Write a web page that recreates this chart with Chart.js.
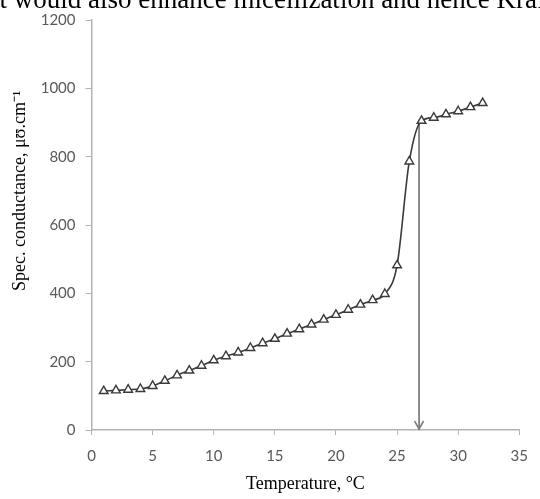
<!DOCTYPE html>
<html><head><meta charset="utf-8">
<script src="https://cdn.jsdelivr.net/npm/chart.js@4"></script>
<style>
html,body{margin:0;padding:0;background:#fff;overflow:hidden}
#wrap{position:relative;width:540px;height:499px}
#top{position:absolute;left:-8px;top:-14px;line-height:27px;font-family:"Liberation Serif",serif;font-size:27px;color:#000;white-space:nowrap}
canvas{position:absolute;left:0;top:0}
</style></head>
<body><div id="wrap">
<canvas id="c" width="540" height="499"></canvas>
<div id="top">it would also enhance micellization and hence Krafft</div>
</div>
<script>
const temperature = [1,2,3,4,5,6,7,8,9,10,11,12,13,14,15,16,17,18,19,20,21,22,23,24,25,26,27,28,29,30,31,32];
const conductance = [114,116,118,120,129,144,160,174,188,204,216,227,240,254,267,282,295,309,323,337,352,367,380,398,482,786,905,914,924,933,945,957];
const arrowX = [26.8, 26.8];
const arrowY = [905, 0];
const xTitle = 'Temperature, \u00B0C';
const yTitle = 'Spec. conductance, \u03BC\u028A.cm\u207B\u00B9';
const yTitleCentreValue = 700;

const extras = {
  id:'extras',
  afterDatasetsDraw(chart){
    const ctx = chart.ctx;
    const p = chart.getDatasetMeta(1).data[1];
    ctx.save();
    ctx.strokeStyle = '#7f7f7f';
    ctx.lineWidth = 1.6;
    ctx.beginPath();
    ctx.moveTo(p.x-4.5, p.y-9);
    ctx.lineTo(p.x, p.y-1);
    ctx.lineTo(p.x+4.5, p.y-9);
    ctx.stroke();
    const cy = chart.scales.y.getPixelForValue(yTitleCentreValue);
    ctx.translate(20, cy);
    ctx.rotate(-Math.PI/2);
    ctx.fillStyle = '#000';
    ctx.font = '18px "Liberation Serif", serif';
    ctx.textAlign = 'center';
    ctx.textBaseline = 'middle';
    ctx.fillText(yTitle, 0, 0);
    ctx.restore();
  }
};

const tickFont = {family:'Lato, "Open Sans", sans-serif', size:15};
new Chart(document.getElementById('c'), {
  type:'scatter',
  data:{datasets:[
    {data: temperature.map((t,i)=>({x:t,y:conductance[i]})),
     showLine:true, borderColor:'#3a3a3a', borderWidth:1.6,
     cubicInterpolationMode:'monotone',
     pointStyle:'triangle', pointRadius:5, pointBorderWidth:1.4,
     pointBackgroundColor:'#ffffff', pointBorderColor:'#3a3a3a', order:1},
    {data: arrowX.map((x,i)=>({x:x,y:arrowY[i]})),
     showLine:true, borderColor:'#7f7f7f', borderWidth:1.8, pointRadius:0, order:2}
  ]},
  options:{
    responsive:false, animation:false,
    layout:{padding:{top:20,right:11,left:0,bottom:0}},
    plugins:{legend:{display:false},tooltip:{enabled:false}},
    scales:{
      x:{type:'linear',min:0,max:35,
        ticks:{stepSize:5,color:'#595959',font:tickFont,padding:12,callback:v=>String(v)},
        grid:{drawOnChartArea:false,tickLength:5,color:'#b3b3b3'},
        border:{color:'#b3b3b3',width:1.5},
        title:{display:true,text:xTitle,color:'#000',font:{family:'"Liberation Serif",serif',size:18},padding:{top:6}},
        afterFit(s){s.height=69;}
      },
      y:{min:0,max:1200,
        ticks:{stepSize:200,color:'#595959',font:tickFont,padding:10,callback:v=>String(v)},
        grid:{drawOnChartArea:false,tickLength:6,color:'#b3b3b3'},
        border:{color:'#b3b3b3',width:1.5},
        afterFit(s){s.width=91.5;}
      }
    }
  },
  plugins:[extras]
});
</script>
</body></html>
